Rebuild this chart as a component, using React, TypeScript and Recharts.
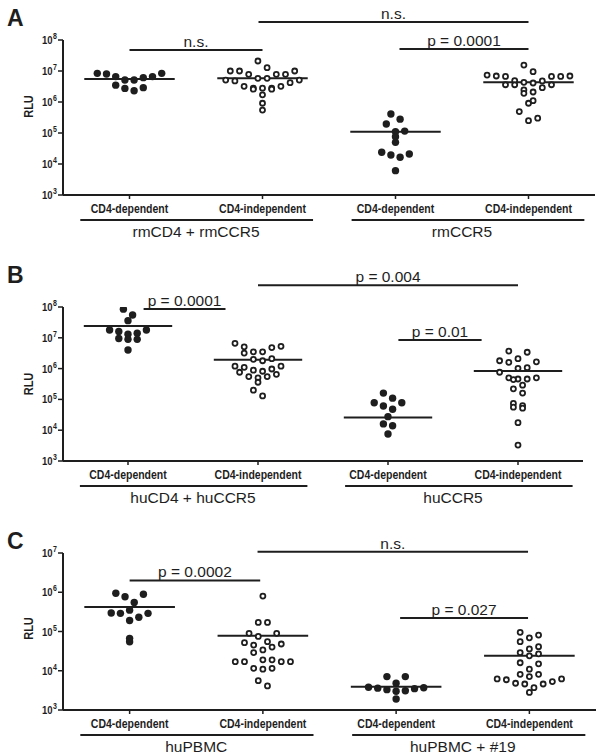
import React from 'react';
import { ScatterChart, Scatter, XAxis, YAxis, ReferenceLine, Label } from 'recharts';

// ---------- shared ----------
const categories = ['CD4-dependent', 'CD4-independent', 'CD4-dependent', 'CD4-independent'];
const groupCenters = [0.5, 2.5];
const groupStart = [-0.37, 1.67];
const groupEnd = [1.38, 3.42];

// ---------- Panel A ----------
const aGroups = ['rmCD4 + rmCCR5', 'rmCCR5'];
const aDep1 = [8.4e6, 8.0e6, 6.6e6, 5.1e6, 5.1e6, 6.1e6, 6.6e6, 8.4e6, 2.9e6, 2.3e6, 2.75e6, 3.5e6];
const aInd1 = [2.1e7, 1.28e7, 1.0e7, 1.0e7, 1.0e7, 7.8e6, 7.8e6, 7.8e6, 5.8e6, 5.8e6, 5.1e6, 5.1e6, 4.8e6, 4.2e6, 3.2e6, 3.2e6, 2.8e6, 2.8e6, 2.8e6, 2.6e6, 2.6e6, 1.7e6, 9.1e5, 5.5e5];
const aDep2 = [4.1e5, 2.8e5, 1.95e5, 1.15e5, 1.1e5, 7.6e4, 5.0e4, 2.4e4, 1.95e4, 1.65e4, 2.1e4, 6.1e3];
const aInd2 = [1.55e7, 9.5e6, 7.4e6, 6.9e6, 6.9e6, 6.7e6, 6.7e6, 6.7e6, 3.6e6, 4.9e6, 3.6e6, 4.3e6, 4.1e6, 4.8e6, 2.9e6, 3.6e6, 2.45e6, 1.9e6, 2.1e6, 1.1e6, 9.1e5, 4.9e5, 2.5e5, 3.0e5];
const aCenters = [5.5e6, 5.8e6, 1.1e5, 4.3e6];
const aSigFrom = [0, 0.97, 2.03];
const aSigTo = [1, 3, 3];
const aSigLevel = [4.8e7, 3.8e8, 5.1e7];
const aSigText = ['n.s.', 'n.s.', 'p = 0.0001'];
const aTicks = [1e3, 1e4, 1e5, 1e6, 1e7, 1e8];

// ---------- Panel B ----------
const bGroups = ['huCD4 + huCCR5', 'huCCR5'];
const bDep1 = [8.5e7, 5.5e7, 3.6e7, 1.6e7, 1.3e7, 1.8e7, 1.8e7, 1.4e7, 8.9e6, 8.9e6, 9.5e6, 4.0e6];
const bInd1 = [6.6e6, 5.1e6, 4.8e6, 5.3e6, 3.2e6, 3.5e6, 3.5e6, 2.0e6, 1.8e6, 2.1e6, 1.2e6, 1.1e6, 8.9e5, 7.6e5, 8.2e5, 9.7e5, 1.2e6, 5.5e5, 5.0e5, 5.5e5, 6.5e5, 3.6e5, 1.3e5, 2.0e5];
const bDep2 = [1.6e5, 1.1e5, 7.8e4, 4.8e4, 6.1e4, 7.8e4, 2.75e4, 1.6e4, 1.4e4, 7.5e3];
const bInd2 = [3.7e6, 3.4e6, 1.66e6, 2.1e6, 1.6e6, 1.8e6, 1.07e6, 1.02e6, 7.6e5, 5.0e5, 4.6e5, 4.4e5, 4.6e5, 2.9e5, 5.0e5, 2.2e5, 1.6e5, 6.3e4, 5.2e4, 5.6e4, 7.4e4, 1.75e4, 3.3e3];
const bCenters = [2.4e7, 1.95e6, 2.6e4, 8.3e5];
const bSigFrom = [0.12, 1.0, 2.08];
const bSigTo = [0.75, 3.0, 2.72];
const bSigLevel = [8.6e7, 5.1e8, 8.5e6];
const bSigText = ['p = 0.0001', 'p = 0.004', 'p = 0.01'];
const bTicks = [1e3, 1e4, 1e5, 1e6, 1e7, 1e8];

// ---------- Panel C ----------
const cGroups = ['huPBMC', 'huPBMC + #19'];
const cDep1 = [8.9e5, 7.7e5, 9.4e5, 5.5e5, 2.9e5, 2.3e5, 3.5e5, 2.9e5, 2.95e5, 1.9e5, 5.5e4, 6.7e4];
const cInd1 = [8.0e5, 1.7e5, 1.7e5, 9.0e4, 7.5e4, 9.0e4, 5.5e4, 4.8e4, 4.0e4, 3.4e4, 4.5e4, 5.2e4, 2.9e4, 1.7e4, 1.7e4, 1.9e4, 1.9e4, 1.7e4, 1.7e4, 1.15e4, 1.1e4, 1.15e4, 4.1e3, 5.6e3];
const cDep2 = [7.1e3, 7.1e3, 4.8e3, 3.6e3, 3.1e3, 3.5e3, 3.7e3, 3.0e3, 3.8e3, 3.3e3, 1.9e3];
const cInd2 = [9.5e4, 8.1e4, 6.9e4, 5.5e4, 3.6e4, 4.1e4, 2.7e4, 2.4e4, 2.9e4, 1.6e4, 1.5e4, 1.1e4, 8.1e3, 6.2e3, 4.8e3, 5.9e3, 4.6e3, 5.3e3, 6.2e3, 3.7e3, 7.1e3, 4.6e3, 8.1e3, 2.8e3];
const cCenters = [4.2e5, 7.8e4, 3.9e3, 2.4e4];
const cSigFrom = [0, 0.96, 2.03];
const cSigTo = [0.98, 2.99, 2.99];
const cSigLevel = [2.0e6, 1.07e7, 2.2e5];
const cSigText = ['p = 0.0002', 'n.s.', 'p = 0.027'];
const cTicks = [1e3, 1e4, 1e5, 1e6, 1e7];

// ---------- styles ----------
const INK = '#1e1e1e';
const SANS = "'Liberation Sans', Arial, Helvetica, sans-serif";
const STRETCH = 1.22;
const BIN_PX = 9.3;
const SLOT_PX = 9.2;

type Pt = { x: number; y: number };

// GraphPad-like dot layout: bin values into rows, spread each row horizontally
function swarm(values: number[], cat: number, pxPerDec: number, pxPerCat: number): Pt[] {
  const sorted = values.map((v) => ({ v, l: Math.log10(v) })).sort((a, b) => b.l - a.l);
  const binDec = BIN_PX / pxPerDec;
  const top = sorted[0].l;
  const rows: { v: number; l: number }[][] = [];
  sorted.forEach((p) => {
    const k = Math.floor((top - p.l) / binDec + 1e-9);
    (rows[k] = rows[k] || []).push(p);
  });
  const out: Pt[] = [];
  rows.forEach((row) => {
    if (!row) return;
    const n = row.length;
    const order: number[] = [];
    let lo = 0;
    let hi = n - 1;
    while (lo <= hi) {
      order.push(lo++);
      if (lo <= hi) order.push(hi--);
    }
    row.forEach((p, j) => {
      const off = (order[j] - (n - 1) / 2) * SLOT_PX;
      out.push({ x: cat + off / pxPerCat, y: p.v });
    });
  });
  return out;
}

const FilledDot = (props: any) => <circle cx={props.cx} cy={props.cy} r={3.7} fill={INK} />;
const OpenDot = (props: any) => (
  <circle cx={props.cx} cy={props.cy} r={2.5} fill="#fff" stroke={INK} strokeWidth={1.8} />
);

type PanelProps = {
  letter: string;
  top: number;
  height: number;
  marginTop: number;
  marginRight: number;
  yMax: number;
  ticks: number[];
  groups: string[];
  dep1: number[];
  ind1: number[];
  dep2: number[];
  ind2: number[];
  centers: number[];
  sigFrom: number[];
  sigTo: number[];
  sigLevel: number[];
  sigText: string[];
  rluShift: number;
};

const WIDTH = 600;
const LEFT = 63;
const X_AXIS_H = 50;

function Panel(p: PanelProps) {
  const plotW = WIDTH - LEFT - p.marginRight;
  const plotH = p.height - p.marginTop - X_AXIS_H;
  const decades = Math.log10(p.yMax) - 3;
  const pxPerDec = plotH / decades;
  const pxPerCat = plotW / 4;
  const cols = [p.dep1, p.ind1, p.dep2, p.ind2];
  const series = cols.map((c, i) => swarm(c, i, pxPerDec, pxPerCat));

  const YTick = (t: any) => {
    const exp = Math.round(Math.log10(t.payload.value));
    return (
      <g transform={`translate(${t.x},${t.y + 4}) scale(1,${STRETCH})`}>
        <text x={0} y={0} textAnchor="end" fontFamily={SANS} fontWeight="bold" fontSize={9.5} fill={INK}>
          <tspan>10</tspan>
          <tspan dx={0.5} dy={-4} fontSize={7}>{exp}</tspan>
        </text>
      </g>
    );
  };

  const XTick = (t: any) => {
    const v = Math.round(t.payload.value);
    const gi = v % 2 === 0 ? v / 2 : -1;
    return (
      <g>
        <g transform={`translate(${t.x},${t.y + 12}) scale(1,${STRETCH})`}>
          <text x={0} y={0} textAnchor="middle" fontFamily={SANS} fontWeight="bold" fontSize={10.5} fill={INK}>
            {categories[v]}
          </text>
        </g>
        {gi >= 0 && (
          <g>
            <line
              x1={t.x + (groupStart[gi] - v) * pxPerCat}
              x2={t.x + (groupEnd[gi] - v) * pxPerCat}
              y1={t.y + 19}
              y2={t.y + 19}
              stroke={INK}
              strokeWidth={2}
            />
            <text
              x={t.x + (groupCenters[gi] - v) * pxPerCat}
              y={t.y + 36}
              textAnchor="middle"
              fontFamily={SANS}
              fontSize={15.5}
              fill={INK}
            >
              {p.groups[gi]}
            </text>
          </g>
        )}
      </g>
    );
  };

  const RluLabel = (lp: any) => {
    const vb = lp.viewBox;
    const cx = vb.x + 16;
    const cy = vb.y + vb.height / 2 + p.rluShift;
    return (
      <g transform={`translate(${cx},${cy}) rotate(-90) scale(1,${STRETCH})`}>
        <text x={0} y={0} textAnchor="middle" dominantBaseline="central" fontFamily={SANS} fontWeight="bold" fontSize={11} fill={INK}>
          RLU
        </text>
      </g>
    );
  };

  const sigLabel = (text: string) => (lp: any) => {
    const vb = lp.viewBox;
    return (
      <text x={vb.x + vb.width / 2} y={vb.y - 3} textAnchor="middle" fontFamily={SANS} fontSize={15.5} fill={INK}>
        {text}
      </text>
    );
  };

  return (
    <div style={{ position: 'absolute', left: 0, top: p.top, width: WIDTH, height: p.height }}>
      <ScatterChart
        width={WIDTH}
        height={p.height}
        margin={{ top: p.marginTop, right: p.marginRight, left: 13, bottom: 0 }}
      >
        <XAxis
          type="number"
          dataKey="x"
          domain={[-0.5, 3.5]}
          ticks={[0, 1, 2, 3]}
          interval={0}
          allowDataOverflow
          height={X_AXIS_H}
          tickSize={4}
          tickMargin={2}
          axisLine={{ stroke: INK, strokeWidth: 2 }}
          tickLine={{ stroke: INK, strokeWidth: 1.5 }}
          tick={XTick}
        />
        <YAxis
          type="number"
          dataKey="y"
          scale="log"
          domain={[1e3, p.yMax]}
          ticks={p.ticks}
          interval={0}
          allowDataOverflow
          width={50}
          tickSize={5}
          tickMargin={1}
          axisLine={{ stroke: INK, strokeWidth: 2 }}
          tickLine={{ stroke: INK, strokeWidth: 1.5 }}
          tick={YTick}
        >
          <Label content={RluLabel} />
        </YAxis>
        {p.centers.map((c, i) => (
          <ReferenceLine
            key={`m${i}`}
            segment={[
              { x: i - 0.34, y: c },
              { x: i + 0.34, y: c },
            ]}
            stroke={INK}
            strokeWidth={2}
            ifOverflow="visible"
          />
        ))}
        {p.sigLevel.map((lv, i) => (
          <ReferenceLine
            key={`s${i}`}
            segment={[
              { x: p.sigFrom[i], y: lv },
              { x: p.sigTo[i], y: lv },
            ]}
            stroke={INK}
            strokeWidth={2}
            ifOverflow="visible"
            label={sigLabel(p.sigText[i])}
          />
        ))}
        {series.map((d, i) => (
          <Scatter
            key={`c${i}`}
            data={d}
            isAnimationActive={false}
            shape={i % 2 === 0 ? FilledDot : OpenDot}
          />
        ))}
      </ScatterChart>
      <div
        style={{
          position: 'absolute',
          left: 7,
          top: p.letter === 'A' ? 7 : 19,
          fontFamily: SANS,
          fontWeight: 'bold',
          fontSize: 23,
          lineHeight: '23px',
          color: INK,
        }}
      >
        {p.letter}
      </div>
    </div>
  );
}

export default function App() {
  return (
    <div style={{ position: 'absolute', left: 0, top: 0, width: 600, height: 755, background: '#fff', overflow: 'hidden' }}>
      <Panel
        letter="A"
        top={0}
        height={245}
        marginTop={40}
        marginRight={5}
        yMax={1e8}
        ticks={aTicks}
        groups={aGroups}
        dep1={aDep1}
        ind1={aInd1}
        dep2={aDep2}
        ind2={aInd2}
        centers={aCenters}
        sigFrom={aSigFrom}
        sigTo={aSigTo}
        sigLevel={aSigLevel}
        sigText={aSigText}
        rluShift={-11}
      />
      <Panel
        letter="B"
        top={245}
        height={266}
        marginTop={62}
        marginRight={17}
        yMax={1e8}
        ticks={bTicks}
        groups={bGroups}
        dep1={bDep1}
        ind1={bInd1}
        dep2={bDep2}
        ind2={bInd2}
        centers={bCenters}
        sigFrom={bSigFrom}
        sigTo={bSigTo}
        sigLevel={bSigLevel}
        sigText={bSigText}
        rluShift={0}
      />
      <Panel
        letter="C"
        top={511}
        height={249}
        marginTop={42}
        marginRight={4}
        yMax={1e7}
        ticks={cTicks}
        groups={cGroups}
        dep1={cDep1}
        ind1={cInd1}
        dep2={cDep2}
        ind2={cInd2}
        centers={cCenters}
        sigFrom={cSigFrom}
        sigTo={cSigTo}
        sigLevel={cSigLevel}
        sigText={cSigText}
        rluShift={-3}
      />
    </div>
  );
}
